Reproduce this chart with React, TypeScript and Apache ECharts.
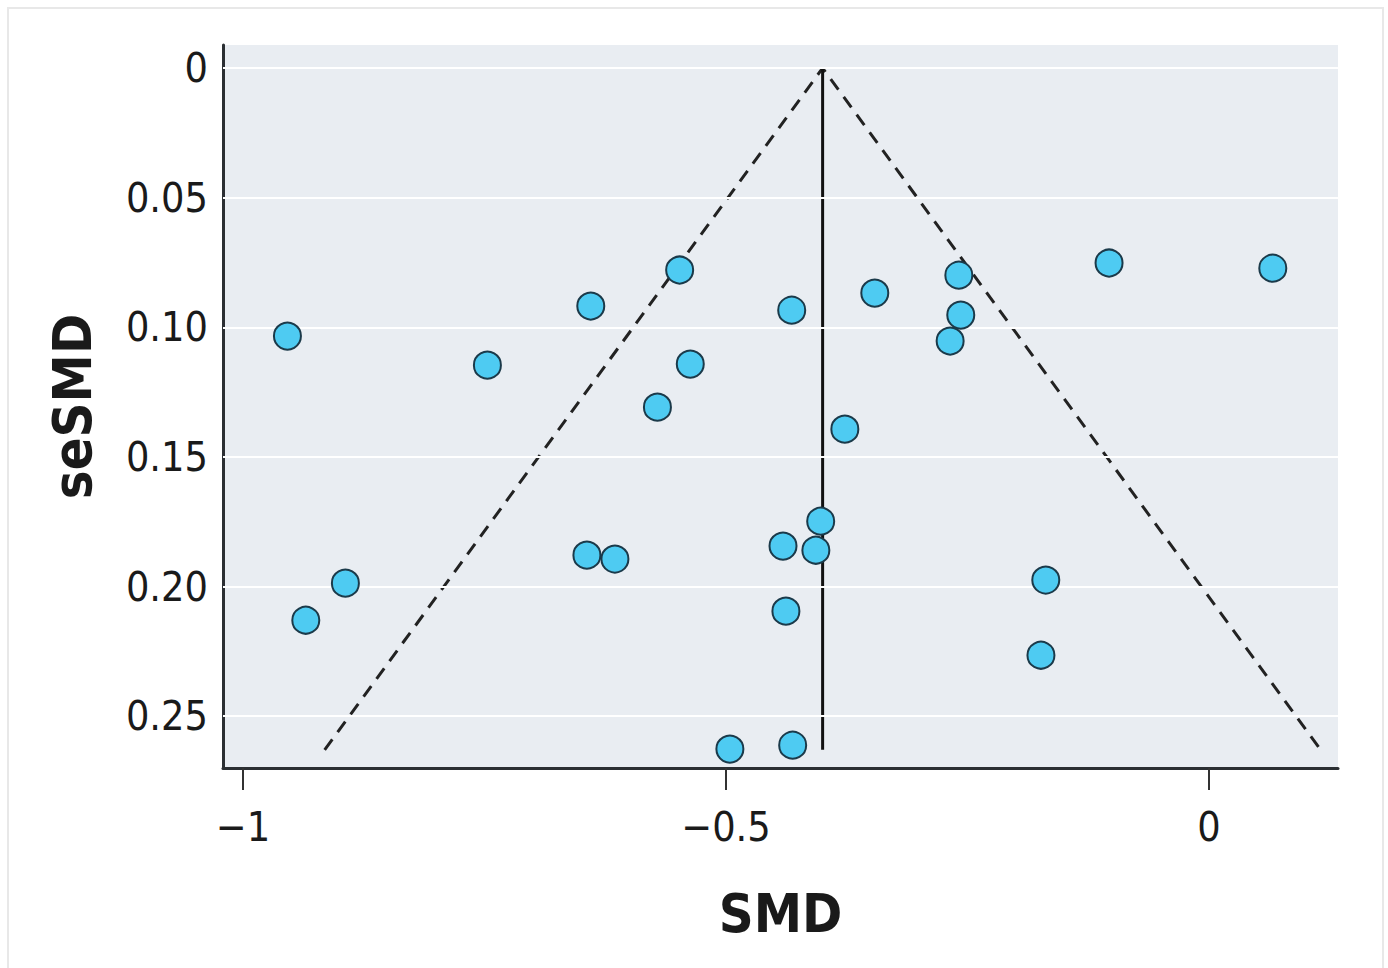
import React, { useEffect, useRef } from "react";
import * as echarts from "echarts";

// Study effect sizes (SMD) and their standard errors (seSMD)
const smd = [
  -0.954, -0.747, -0.640, -0.548, -0.537, -0.571, -0.432, -0.346, -0.259, -0.257,
  -0.268, -0.1035, 0.066, -0.377, -0.402, -0.441, -0.407, -0.644, -0.615, -0.894,
  -0.935, -0.438, -0.169, -0.174, -0.496, -0.431,
];
const seSmd = [
  0.1034, 0.1146, 0.0918, 0.0779, 0.1142, 0.1308, 0.0934, 0.0868, 0.0799, 0.0953,
  0.1053, 0.0752, 0.0772, 0.1393, 0.1748, 0.1844, 0.1860, 0.1879, 0.1894, 0.1987,
  0.2130, 0.2095, 0.1975, 0.2265, 0.2627, 0.2612,
];
const pooledSmd = -0.4;
const funnelSeMax = 0.263;
const zFactor = 1.96;
const xTicks = [-1, -0.5, 0];
const yTicks = [0, 0.05, 0.1, 0.15, 0.2, 0.25];

const FONT = "'DejaVu Sans Condensed', 'Liberation Sans Narrow', Roboto, sans-serif";

export default function App() {
  const ref = useRef<HTMLDivElement>(null);
  useEffect(() => {
    if (!ref.current) return;
    const chart = echarts.init(ref.current, undefined, { renderer: "svg" });
    const points = smd.map((x, i) => [x, seSmd[i]]);
    const funnel = [
      [pooledSmd - zFactor * funnelSeMax, funnelSeMax],
      [pooledSmd, 0],
      [pooledSmd + zFactor * funnelSeMax, funnelSeMax],
    ];
    const vline = [
      [pooledSmd, 0],
      [pooledSmd, funnelSeMax],
    ];
    const fmtX = (v: number) => (v < 0 ? "\u2212" + String(Math.abs(v)) : String(v));
    const fmtY = (v: number) => (v === 0 ? "0" : v.toFixed(2));
    chart.setOption({
      animation: false,
      backgroundColor: "#ffffff",
      graphic: [
        {
          type: "rect",
          shape: { x: 8, y: 8, width: 1375, height: 970 },
          style: { fill: "none", stroke: "#e8e8e8", lineWidth: 2 },
          silent: true,
        },
      ],
      grid: {
        left: 223,
        top: 45,
        right: 50,
        bottom: 200,
        show: true,
        backgroundColor: "#e9edf2",
        borderWidth: 0,
      },
      xAxis: {
        type: "value",
        min: -1.0207,
        max: 0.1335,
        name: "SMD",
        nameLocation: "middle",
        nameGap: 118,
        nameTextStyle: { fontFamily: FONT, fontSize: 54, fontWeight: "bold", color: "#1a1a1a" },
        axisLine: { show: true, onZero: false, lineStyle: { color: "#2b2f33", width: 3 } },
        axisTick: {
          show: true,
          inside: false,
          length: 22,
          lineStyle: { color: "#333", width: 2 },
          customValues: xTicks,
        },
        axisLabel: {
          customValues: xTicks,
          formatter: fmtX,
          fontFamily: FONT,
          fontSize: 41,
          color: "#1a1a1a",
          margin: 38,
        },
        splitLine: { show: false },
      },
      yAxis: {
        type: "value",
        inverse: true,
        min: -0.0089,
        max: 0.27,
        name: "seSMD",
        nameLocation: "middle",
        nameGap: 124,
        nameRotate: 90,
        nameTextStyle: { fontFamily: FONT, fontSize: 54, fontWeight: "bold", color: "#1a1a1a" },
        axisLine: { show: true, onZero: false, lineStyle: { color: "#2b2f33", width: 3 } },
        axisTick: { show: false, customValues: yTicks },
        axisLabel: {
          customValues: yTicks,
          formatter: fmtY,
          fontFamily: FONT,
          fontSize: 41,
          color: "#1a1a1a",
          margin: 15,
        },
        splitLine: { show: false },
      },
      series: [
        {
          type: "line",
          data: [],
          silent: true,
          markLine: {
            silent: true,
            symbol: "none",
            label: { show: false },
            lineStyle: { color: "#ffffff", width: 2, type: "solid" },
            data: yTicks.map((v) => ({ yAxis: v })),
          },
        },
        {
          type: "line",
          data: funnel,
          symbol: "none",
          silent: true,
          lineStyle: { color: "#222", width: 3, type: [13, 9] },
          z: 3,
        },
        {
          type: "line",
          data: vline,
          symbol: "none",
          silent: true,
          lineStyle: { color: "#111", width: 3 },
          z: 3,
        },
        {
          type: "scatter",
          data: points,
          symbolSize: 27,
          itemStyle: { color: "#4ecbf2", borderColor: "#1b3a4a", borderWidth: 2, opacity: 1 },
          z: 5,
        },
      ],
    });
    return () => chart.dispose();
  }, []);
  return (
    <div
      ref={ref}
      style={{ position: "fixed", left: 0, top: 0, width: 1388, height: 968 }}
    />
  );
}
